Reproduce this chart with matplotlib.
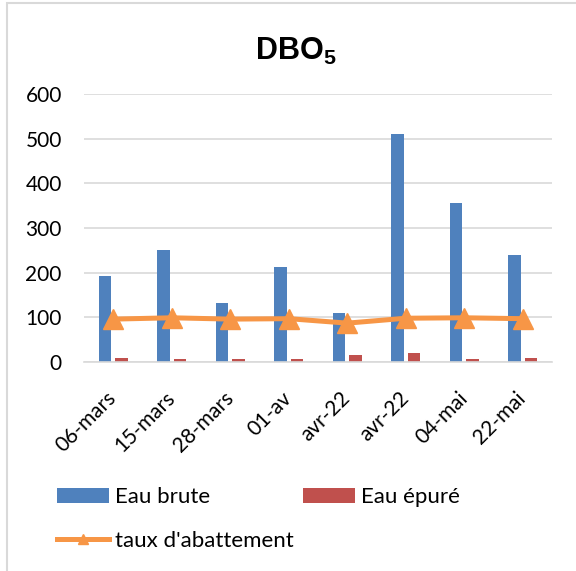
import numpy as np
import matplotlib
matplotlib.use('Agg')
import matplotlib.pyplot as plt
from matplotlib.patches import Rectangle

# Data
dates = ['06-mars', '15-mars', '28-mars', '01-av', 'avr-22', 'avr-22', '04-mai', '22-mai']
eau_brute = [192, 250, 133, 213, 110, 510, 355, 240]
eau_epure = [10, 6, 6, 6, 15, 20, 6, 9]
taux = [96, 99, 96, 97, 87, 98, 99, 97]

plt.rcParams['font.family'] = ['Lato', 'DejaVu Sans']
plt.rcParams['mathtext.fontset'] = 'custom'
plt.rcParams['mathtext.bf'] = 'Liberation Sans:bold'
plt.rcParams['mathtext.rm'] = 'Liberation Sans:bold'

fig = plt.figure(figsize=(5.76, 5.71), dpi=100)
ax = fig.add_axes([84 / 576, 209 / 571, 468 / 576, 268 / 571])

x = np.arange(len(dates))
w = 0.22
ax.bar(x - 0.14, eau_brute, width=w, color='#4F81BD', label='Eau brute', zorder=2)
ax.bar(x + 0.14, eau_epure, width=w, color='#C0504D', label='Eau épuré', zorder=2)
ax.plot(x, taux, color='#F79646', linewidth=3.6, marker='^', markersize=14,
        label="taux d'abattement", zorder=3)

ax.set_xlim(-0.5, len(dates) - 0.5)
ax.set_ylim(0, 600)
ax.set_yticks(range(0, 601, 100))
ax.yaxis.grid(True, color='#D9D9D9', linewidth=1.2)
ax.set_axisbelow(True)
for s in ['top', 'right', 'left']:
    ax.spines[s].set_visible(False)
ax.spines['bottom'].set_color('#D9D9D9')
ax.spines['bottom'].set_linewidth(1.2)
ax.tick_params(axis='y', length=0, labelsize=15, pad=16)
ax.tick_params(axis='x', length=0, labelsize=15, pad=24)
ax.set_xticks(x)
ax.set_xticklabels(dates, rotation=45, ha='right', va='center', rotation_mode='anchor')

fig.text(255 / 576, (571 - 60) / 571, r'$\mathbf{DBO_5}$', ha='left', va='baseline', fontsize=22)

h, l = ax.get_legend_handles_labels()
lookup = dict(zip(l, h))
# column-wise fill: col 1 -> brute, taux ; col 2 -> epure
names = ['Eau brute', "taux d'abattement", 'Eau épuré']
fig.legend([lookup[n] for n in names], names, ncol=2, frameon=False,
           loc='upper left', bbox_to_anchor=(57 / 576, 0.147),
           borderpad=0, borderaxespad=0, fontsize=16,
           handlelength=2.35, handletextpad=0.27, columnspacing=0.4,
           labelspacing=1.07, markerscale=0.55)

fig.patches.append(Rectangle((7 / 576, -0.1), 1.2, 1.1 - 3 / 571, transform=fig.transFigure,
                             fill=False, edgecolor='#D9D9D9', linewidth=1.5))

fig.savefig('out.png', dpi=100)
